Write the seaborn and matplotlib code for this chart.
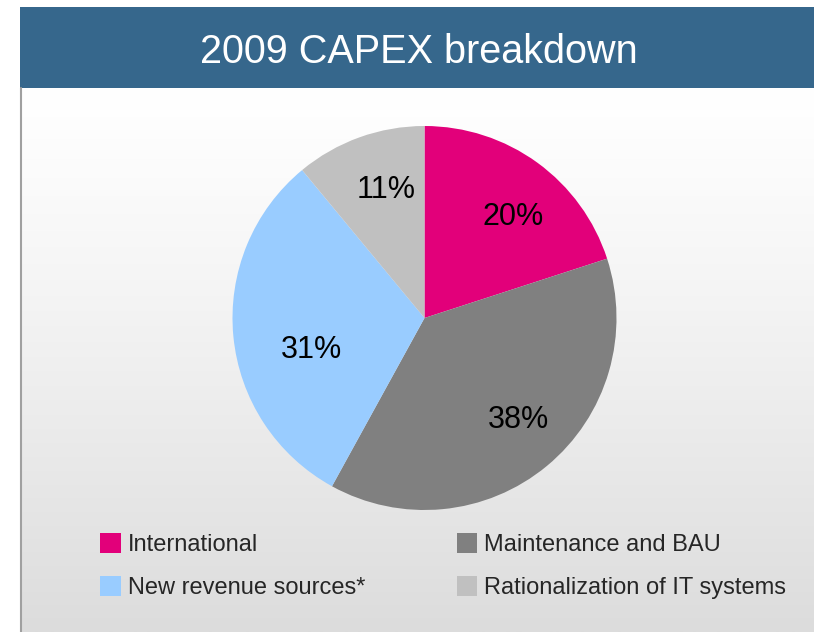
import matplotlib
matplotlib.use("Agg")
import matplotlib.pyplot as plt
from matplotlib import font_manager
from matplotlib.patches import Rectangle, Patch
import numpy as np
import seaborn as sns

# ---- data ----
categories = ["International", "Maintenance and BAU", "New revenue sources*", "Rationalization of IT systems"]
values = [20, 38, 31, 11]
colors = ["#E2007A", "#808080", "#99CCFF", "#C0C0C0"]
title = "2009 CAPEX breakdown"

# label placement tweaks (radius fraction, angle shift in degrees)
label_radius = [0.70, 0.724, 0.614, 0.696]
label_shift = [-5.2, 3.2, 10.3, -3.1]

sns.set_theme(style="white")
names = {f.name for f in font_manager.fontManager.ttflist}
main_font = "Liberation Sans Narrow" if "Liberation Sans Narrow" in names else "Liberation Sans"
plt.rcParams["font.family"] = [main_font, "DejaVu Sans"]

W, H = 814, 632
fig = plt.figure(figsize=(W / 100, H / 100), dpi=100)
fig.patch.set_facecolor("white")

# background axes in pixel coordinates
bg = fig.add_axes([0, 0, 1, 1])
grad = np.linspace(0, 1, 256) ** 1.2
top, bot = np.array([1.0, 1.0, 1.0]), np.array([0xDC, 0xDC, 0xDC]) / 255
img = (top[None, :] * (1 - grad[:, None]) + bot[None, :] * grad[:, None])[:, None, :]
bg.imshow(img, extent=(20, W, H, 88), aspect="auto", interpolation="bilinear", zorder=0)
bg.set_xlim(0, W)
bg.set_ylim(H, 0)
bg.axis("off")
bg.add_patch(Rectangle((20, 7), W - 20, 81, facecolor="#36678C", edgecolor="none", zorder=1))
bg.plot([20.5, 20.5], [88, H], color="#A0A0A0", lw=1.5, zorder=2)
bg.text(419, 63, title, color="white", fontsize=28.5, ha="center", va="baseline", zorder=3)

# pie
cx, cy, r = 424.5, 318, 192
ax = fig.add_axes([(cx - r) / W, (H - cy - r) / H, 2 * r / W, 2 * r / H])
ax.patch.set_alpha(0)
palette = sns.color_palette(colors)
wedges, texts, autotexts = ax.pie(
    values, colors=palette, startangle=90, counterclock=False,
    autopct=lambda p: f"{p:.0f}%", pctdistance=0.70,
    wedgeprops=dict(linewidth=0),
    textprops=dict(fontsize=22, color="black"),
)
for w, t, rr, sh in zip(wedges, autotexts, label_radius, label_shift):
    mid = np.deg2rad((w.theta1 + w.theta2) / 2 + sh)
    t.set_position((rr * np.cos(mid), rr * np.sin(mid)))
ax.set_xlim(-1, 1)
ax.set_ylim(-1, 1)
ax.axis("off")

# legend (row-wise order: Intl, Maint / New, Ratio)
order = [0, 2, 1, 3]
handles = [Patch(facecolor=colors[i], edgecolor="none", label=categories[i]) for i in order]
fig.legend(handles=handles, ncol=2, loc="upper left",
           bbox_to_anchor=(91 / W, 1 - 524 / H), frameon=False,
           fontsize=17, handlelength=0.88, handleheight=0.88, handletextpad=0.3,
           columnspacing=3.85, labelspacing=0.85, borderaxespad=0)

fig.savefig("out.png", dpi=100)
